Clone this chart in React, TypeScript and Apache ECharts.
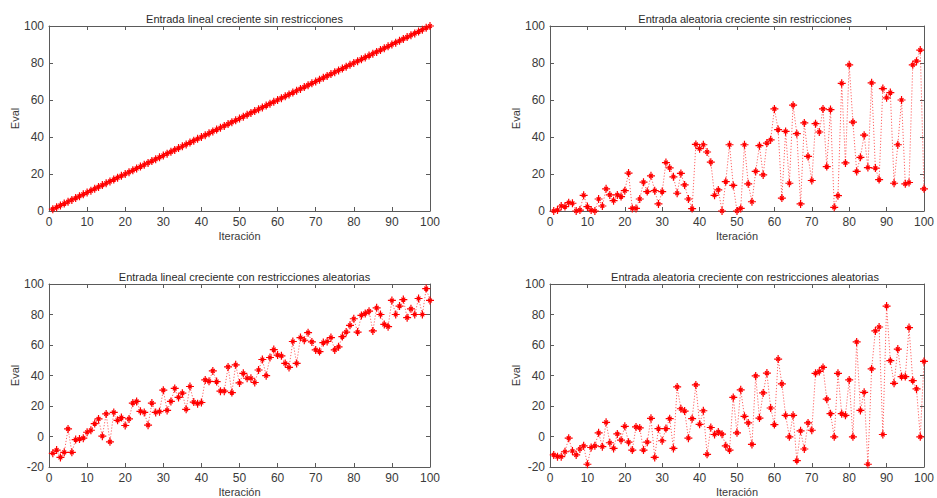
import React, { useEffect, useRef } from "react";
import * as echarts from "echarts";

const titles = [
  "Entrada lineal creciente sin restricciones",
  "Entrada aleatoria creciente sin restricciones",
  "Entrada lineal creciente con restricciones aleatorias",
  "Entrada aleatoria creciente con restricciones aleatorias",
];

const xLabel = "Iteración";
const yLabel = "Eval";

const linealSin = [
  1, 2, 3, 4, 5, 6, 7, 8, 9, 10, 11, 12, 13, 14, 15, 16, 17, 18, 19, 20,
  21, 22, 23, 24, 25, 26, 27, 28, 29, 30, 31, 32, 33, 34, 35, 36, 37, 38, 39, 40,
  41, 42, 43, 44, 45, 46, 47, 48, 49, 50, 51, 52, 53, 54, 55, 56, 57, 58, 59, 60,
  61, 62, 63, 64, 65, 66, 67, 68, 69, 70, 71, 72, 73, 74, 75, 76, 77, 78, 79, 80,
  81, 82, 83, 84, 85, 86, 87, 88, 89, 90, 91, 92, 93, 94, 95, 96, 97, 98, 99, 100,
];

const aleatoriaSin = [
  0, 0.5, 2.7, 2.4, 4.5, 4.2, 0, 0.5, 8.5, 2.4,
  0.5, 0, 6.5, 2.7, 12, 8.7, 5.6, 8.7, 7.8, 11,
  20.5, 1.4, 1.4, 6.5, 15.6, 10.5, 19, 11, 3.8, 10.5,
  26.2, 23.3, 18.5, 9.6, 20.3, 14.1, 6.5, 1.3, 36, 33.7,
  35.8, 31.9, 26.4, 8.5, 11.4, 0, 15.9, 35.8, 13.8, 0,
  1.4, 35.8, 14.7, 5, 21.4, 35.3, 19.5, 36.7, 38.5, 55.2,
  44, 7, 43, 15, 57.2, 41.8, 3.8, 47.6, 29.5, 16.5,
  47.2, 42.7, 55.2, 24, 54.8, 2, 8.3, 69, 26, 79,
  48, 21.4, 29, 41, 23.5, 69.3, 23.2, 17, 66.2, 61.2,
  64, 15, 35.8, 60, 14.7, 15.4, 79, 81, 87, 12,
];

const linealCon = [
  -11, -8.9, -13.7, -10.4, 5, -10.4, -2, -1.7, -1.1, 2.8,
  4.1, 8.5, 11.5, 0.2, 14.8, -3.5, 15.8, 10.6, 12.4, 7.2,
  11.5, 21.9, 23, 16.5, 15.8, 7.4, 21.9, 15.8, 16.3, 30.4,
  17.1, 23, 31.5, 25.6, 28.4, 17.8, 32.8, 22.6, 21.5, 22.3,
  37.1, 36.2, 43, 36, 29.7, 29.7, 45.6, 28.8, 47, 35.1,
  41.4, 38.2, 38.2, 35.4, 43.6, 50.5, 39.9, 51.8, 57, 53.4,
  52.9, 47.9, 45.3, 62.3, 47.9, 64.9, 63.1, 68.1, 62, 56.8,
  55.7, 61.6, 62.3, 64.9, 56.8, 58.8, 65.5, 68.5, 72.9, 77.2,
  68.5, 79.4, 80.7, 82.2, 69.2, 84.4, 80, 73.5, 72, 89.2,
  80, 85.5, 89.8, 77.9, 83.7, 80, 90.5, 80, 97, 89.2,
];

const aleatoriaCon = [
  -12.1, -13.2, -13.2, -10, -1.1, -9.5, -12.1, -8.2, -6.1, -18.2,
  -7.2, -6.1, 2.4, -6.7, 9.3, -4.1, -7.8, 1.7, -2.4, 6.7,
  -3.7, -8.9, 6.3, 5.6, -8.9, -3.7, 11.9, -13.7, 5.2, -2.8,
  5.2, 11.7, -7.8, 32.5, 18.2, 16.7, -1.1, 11.7, 33.8, 8,
  16.9, -11.7, 5.9, 1.3, 3, 1.5, -6.1, -8.9, 25.6, 2.4,
  30.6, 13.2, 8.9, -5.2, 39.7, 12.1, 28.6, 41.6, 18.7, 7.8,
  50.8, 34.5, 13.9, -0.2, 13.9, -15.8, 3.7, -8.2, 8.9, 4.1,
  41.4, 42.7, 45.3, 24.5, 15, -0.2, 41.4, 15, 13.9, 37.1,
  -0.2, 62, 17.1, 29, -18.2, 44.3, 69.2, 71.8, 1.3, 85.5,
  49.7, 34.9, 57.3, 39.3, 39.3, 71.4, 36.7, 31.2, -0.2, 49.2,
];

const seriesValues = [linealSin, aleatoriaSin, linealCon, aleatoriaCon];
const yMins = [0, 0, -20, -20];

const FONT = "'Liberation Sans', Arial, sans-serif";
const AXIS_COLOR = "#5a5a5a";
const TEXT_COLOR = "#3a3a3a";
const STAR = "path://M0,5L10,5M5,0L5,10M2.6,2.6L7.4,7.4M7.4,2.6L2.6,7.4";

export default function App() {
  const ref = useRef<HTMLDivElement>(null);

  useEffect(() => {
    if (!ref.current) return;
    const chart = echarts.init(ref.current, undefined, { renderer: "svg" });

    const grids = [
      { left: 49, top: 26, width: 381, height: 185 },
      { left: 550, top: 26, width: 380, height: 185 },
      { left: 49, top: 284, width: 381, height: 184 },
      { left: 550, top: 284, width: 380, height: 184 },
    ];

    const xAxis: any[] = [];
    const yAxis: any[] = [];
    const series: any[] = [];
    const title: any[] = [];

    grids.forEach((g, i) => {
      title.push({
        text: titles[i],
        left: g.left + g.width / 2,
        top: g.top - 18,
        textAlign: "center",
        textStyle: { fontFamily: FONT, fontSize: 11, fontWeight: "normal", color: "#2a2a2a" },
      });
      const tick = { show: true, inside: true, length: 4, lineStyle: { color: AXIS_COLOR } };
      const line = { show: true, onZero: false, lineStyle: { color: AXIS_COLOR, width: 1 } };
      xAxis.push({
        type: "value",
        gridIndex: i,
        position: "bottom",
        min: 0,
        max: 100,
        interval: 10,
        axisLine: line,
        axisTick: tick,
        splitLine: { show: false },
        axisLabel: { fontFamily: FONT, fontSize: 12, color: TEXT_COLOR, margin: 5 },
        name: xLabel,
        nameLocation: "middle",
        nameGap: 19,
        nameTextStyle: { fontFamily: FONT, fontSize: 11, color: TEXT_COLOR },
      });
      xAxis.push({
        type: "value",
        gridIndex: i,
        position: "top",
        min: 0,
        max: 100,
        interval: 10,
        axisLine: line,
        axisTick: tick,
        splitLine: { show: false },
        axisLabel: { show: false },
      });
      yAxis.push({
        type: "value",
        gridIndex: i,
        position: "left",
        min: yMins[i],
        max: 100,
        interval: 20,
        axisLine: line,
        axisTick: tick,
        splitLine: { show: false },
        axisLabel: { fontFamily: FONT, fontSize: 12, color: TEXT_COLOR, margin: 5 },
        name: yLabel,
        nameLocation: "middle",
        nameGap: 26,
        nameRotate: 90,
        nameTextStyle: { fontFamily: FONT, fontSize: 11, color: TEXT_COLOR },
      });
      yAxis.push({
        type: "value",
        gridIndex: i,
        position: "right",
        min: yMins[i],
        max: 100,
        interval: 20,
        axisLine: line,
        axisTick: tick,
        splitLine: { show: false },
        axisLabel: { show: false },
      });
      series.push({
        type: "line",
        xAxisIndex: i * 2,
        yAxisIndex: i * 2,
        data: seriesValues[i].map((v, k) => [k + 1, v]),
        symbol: STAR,
        symbolSize: 8,
        showSymbol: true,
        itemStyle: { color: "#ff0000", borderColor: "#ff0000", borderWidth: 1.2 },
        lineStyle: { color: "#ff3030", width: 1, type: [1.2, 1.8], opacity: 0.75 },
        z: 3,
      });
    });

    chart.setOption({
      animation: false,
      backgroundColor: "#ffffff",
      title,
      grid: grids.map((g) => ({ ...g, show: false, containLabel: false })),
      xAxis,
      yAxis,
      series,
    });

    return () => chart.dispose();
  }, []);

  return (
    <div
      ref={ref}
      style={{ position: "fixed", left: 0, top: 0, width: 937, height: 498, background: "#fff" }}
    />
  );
}
